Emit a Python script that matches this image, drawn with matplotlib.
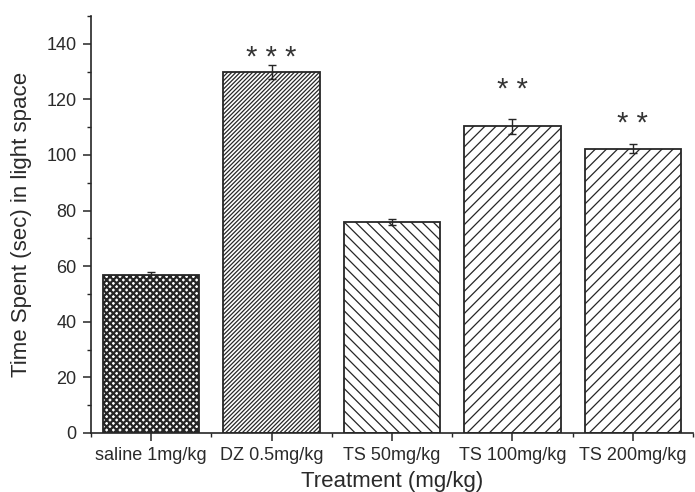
import matplotlib
matplotlib.use("Agg")
import matplotlib.pyplot as plt
from matplotlib.ticker import MultipleLocator

# Data
categories = ["saline 1mg/kg", "DZ 0.5mg/kg", "TS 50mg/kg", "TS 100mg/kg", "TS 200mg/kg"]
means = [56.8, 129.8, 76.0, 110.3, 102.3]
errors = [1.0, 2.4, 1.1, 2.8, 1.5]
stars = ["", "* * *", "", "* *", "* *"]
star_base = [0, 131.9, 0, 120.6, 108.3]
hatches = ["xxxxx", "////////", "\\\\\\", "///", "///"]
hatch_widths = [1.6, 0.9, 0.9, 0.9, 0.9]

plt.rcParams["font.family"] = ["Liberation Sans", "DejaVu Sans"]
plt.rcParams["hatch.linewidth"] = 0.9

ink = "#262626"

fig = plt.figure(figsize=(6.95, 4.92), dpi=100)
ax = fig.add_axes([0.131, 0.12, 0.866, 0.8475])

x = list(range(len(categories)))
for xi, m, h, hw in zip(x, means, hatches, hatch_widths):
    bars = ax.bar(xi, m, width=0.8, color="white", edgecolor=ink, linewidth=1.3,
                  hatch=h, zorder=2)
    for b in bars:
        if hasattr(b, "set_hatch_linewidth"):
            b.set_hatch_linewidth(hw)

ax.errorbar(x, means, yerr=errors, fmt="none", ecolor=ink, elinewidth=1.0,
            capsize=3.2, capthick=1.0, zorder=3)

for xi, s, sy in zip(x, stars, star_base):
    if s:
        ax.text(xi, sy, s, ha="center", va="baseline", fontsize=21, color="#333333")

ax.set_xlim(-0.5, 4.5)
ax.set_ylim(0, 150)

ax.set_xticks(x)
ax.set_xticklabels(categories)
ax.xaxis.set_minor_locator(MultipleLocator(1.0, offset=0.5))
ax.yaxis.set_minor_locator(MultipleLocator(10))
ax.set_yticks([0, 20, 40, 60, 80, 100, 120, 140])

for side in ("top", "right"):
    ax.spines[side].set_visible(False)
for side in ("left", "bottom"):
    ax.spines[side].set_color(ink)
    ax.spines[side].set_linewidth(1.2)

ax.tick_params(axis="both", which="major", direction="out", length=6, width=1.1,
               color=ink, labelsize=13, labelcolor="#2a2a2a")
ax.tick_params(axis="both", which="minor", direction="out", length=3, width=1.0,
               color=ink)
ax.tick_params(axis="y", which="major", pad=4.5)
ax.tick_params(axis="x", which="major", pad=4)

ax.set_ylabel("Time Spent (sec) in light space", fontsize=16, color="#2a2a2a", labelpad=10)
ax.set_xlabel("Treatment (mg/kg)", fontsize=16, color="#2a2a2a", labelpad=5)

fig.savefig("out.png", dpi=100)
